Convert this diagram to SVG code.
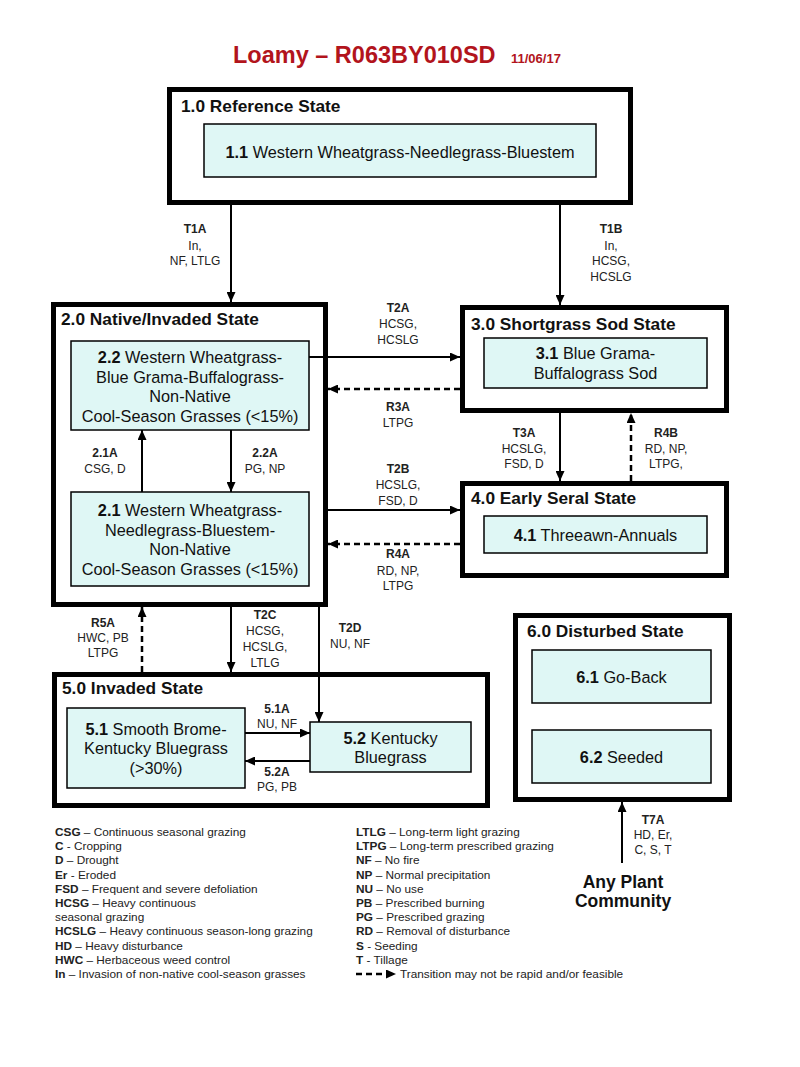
<svg xmlns="http://www.w3.org/2000/svg" width="800" height="1067" viewBox="0 0 800 1067">
<style>
text{font-family:"Liberation Sans",Arial,sans-serif;fill:#111}
.ttl{font-size:23.5px;font-weight:bold;fill:#b2141c}
.date{font-size:13px;font-weight:bold;fill:#b2141c}
.state{fill:#fff;stroke:#000;stroke-width:5}
.st{font-size:17.3px;font-weight:bold}
.box{fill:#dff7f5;stroke:#000;stroke-width:1.5}
.bx{font-size:16.3px;text-anchor:middle}
.lb{font-size:12px;text-anchor:middle;fill:#222}
.lg{font-size:11.8px;fill:#222}
.big{font-size:17.5px;font-weight:bold;text-anchor:middle}
.b{font-weight:bold}
.c{fill:none;stroke:#000;stroke-width:2}
.d{fill:none;stroke:#000;stroke-width:2.5;stroke-dasharray:6 4}
</style>
<defs>
<marker id="ah" markerUnits="userSpaceOnUse" markerWidth="10" markerHeight="9" refX="10" refY="4.5" orient="auto">
<path d="M0,0 L10,4.5 L0,9 Z" fill="#000"/>
</marker>
</defs>
<rect width="800" height="1067" fill="#fff"/>
<g id="title">
<text class="ttl" x="233" y="62.5">Loamy – R063BY010SD</text>
<text class="date" x="511" y="62.5">11/06/17</text>
</g>
<g id="state1">
<rect class="state" x="169.5" y="89.5" width="461" height="113"/>
<text class="st" x="181" y="112">1.0 Reference State</text>
<g id="c1_1">
<rect class="box" x="204" y="124" width="392" height="53"/>
<text class="bx" x="400" y="157.5"><tspan class="b">1.1</tspan> Western Wheatgrass-Needlegrass-Bluestem</text>
</g>
</g>
<g id="state2">
<rect class="state" x="53.5" y="304.5" width="272" height="300"/>
<text class="st" x="61" y="325">2.0 Native/Invaded State</text>
<g id="c2_2">
<rect class="box" x="71" y="341" width="238" height="89"/>
<text class="bx" x="190" y="363"><tspan class="b">2.2</tspan> Western Wheatgrass-</text>
<text class="bx" x="190" y="383">Blue Grama-Buffalograss-</text>
<text class="bx" x="190" y="402">Non-Native</text>
<text class="bx" x="190" y="422">Cool-Season Grasses (&lt;15%)</text>
</g>
<g id="c2_1">
<rect class="box" x="71" y="492" width="238" height="94"/>
<text class="bx" x="190" y="516"><tspan class="b">2.1</tspan> Western Wheatgrass-</text>
<text class="bx" x="190" y="536">Needlegrass-Bluestem-</text>
<text class="bx" x="190" y="555">Non-Native</text>
<text class="bx" x="190" y="575">Cool-Season Grasses (&lt;15%)</text>
</g>
</g>
<g id="state3">
<rect class="state" x="462.5" y="307.5" width="264" height="103"/>
<text class="st" x="471" y="330">3.0 Shortgrass Sod State</text>
<g id="c3_1">
<rect class="box" x="484" y="338" width="223" height="50"/>
<text class="bx" x="595.5" y="359"><tspan class="b">3.1</tspan> Blue Grama-</text>
<text class="bx" x="595.5" y="379">Buffalograss Sod</text>
</g>
</g>
<g id="state4">
<rect class="state" x="462.5" y="483.5" width="264" height="92"/>
<text class="st" x="471" y="504">4.0 Early Seral State</text>
<g id="c4_1">
<rect class="box" x="484" y="516" width="223" height="37"/>
<text class="bx" x="595.5" y="541"><tspan class="b">4.1</tspan> Threeawn-Annuals</text>
</g>
</g>
<g id="state5">
<rect class="state" x="54.5" y="674.5" width="433" height="131"/>
<text class="st" x="62" y="694">5.0 Invaded State</text>
<g id="c5_1">
<rect class="box" x="67" y="708" width="178" height="80"/>
<text class="bx" x="156" y="735"><tspan class="b">5.1</tspan> Smooth Brome-</text>
<text class="bx" x="156" y="754">Kentucky Bluegrass</text>
<text class="bx" x="156" y="774">(&gt;30%)</text>
</g>
<g id="c5_2">
<rect class="box" x="310" y="722" width="161" height="50"/>
<text class="bx" x="390.5" y="744"><tspan class="b">5.2</tspan> Kentucky</text>
<text class="bx" x="390.5" y="763">Bluegrass</text>
</g>
</g>
<g id="state6">
<rect class="state" x="515.5" y="615.5" width="214" height="184"/>
<text class="st" x="527" y="637">6.0 Disturbed State</text>
<g id="c6_1">
<rect class="box" x="532" y="650" width="179" height="53"/>
<text class="bx" x="621.5" y="683"><tspan class="b">6.1</tspan> Go-Back</text>
</g>
<g id="c6_2">
<rect class="box" x="532" y="730" width="179" height="53"/>
<text class="bx" x="621.5" y="763"><tspan class="b">6.2</tspan> Seeded</text>
</g>
</g>
<g id="anyplant">
<text class="big" x="623" y="888">Any Plant</text>
<text class="big" x="623" y="907">Community</text>
</g>
<g id="connectors">
<line class="c" x1="231" y1="205" x2="231" y2="302" marker-end="url(#ah)"/>
<line class="c" x1="560" y1="205" x2="560" y2="305" marker-end="url(#ah)"/>
<line class="c" x1="309" y1="357" x2="460" y2="357" marker-end="url(#ah)"/>
<line class="d" x1="460" y1="389" x2="328" y2="389" marker-end="url(#ah)"/>
<line class="c" x1="328" y1="510" x2="460" y2="510" marker-end="url(#ah)"/>
<line class="d" x1="460" y1="544" x2="328" y2="544" marker-end="url(#ah)"/>
<line class="c" x1="142" y1="492" x2="142" y2="430" marker-end="url(#ah)"/>
<line class="c" x1="231" y1="430" x2="231" y2="492" marker-end="url(#ah)"/>
<line class="c" x1="560" y1="413" x2="560" y2="481" marker-end="url(#ah)"/>
<line class="d" x1="631" y1="481" x2="631" y2="413" marker-end="url(#ah)"/>
<line class="d" x1="142" y1="672" x2="142" y2="607" marker-end="url(#ah)"/>
<line class="c" x1="231" y1="607" x2="231" y2="672" marker-end="url(#ah)"/>
<line class="c" x1="319" y1="607" x2="319" y2="722" marker-end="url(#ah)"/>
<line class="c" x1="245" y1="733" x2="310" y2="733" marker-end="url(#ah)"/>
<line class="c" x1="310" y1="761" x2="245" y2="761" marker-end="url(#ah)"/>
<line class="c" x1="622" y1="863" x2="622" y2="802" marker-end="url(#ah)"/>
</g>
<g id="labels">
<text class="lb" x="195" y="233"><tspan class="b">T1A</tspan><tspan x="195" y="250">In,</tspan><tspan x="195" y="265">NF, LTLG</tspan></text>
<text class="lb" x="611" y="233"><tspan class="b">T1B</tspan><tspan x="611" y="250">In,</tspan><tspan x="611" y="265">HCSG,</tspan><tspan x="611" y="281">HCSLG</tspan></text>
<text class="lb" x="398" y="312"><tspan class="b">T2A</tspan><tspan x="398" y="328">HCSG,</tspan><tspan x="398" y="344">HCSLG</tspan></text>
<text class="lb" x="398" y="411"><tspan class="b">R3A</tspan><tspan x="398" y="427">LTPG</tspan></text>
<text class="lb" x="398" y="473"><tspan class="b">T2B</tspan><tspan x="398" y="489">HCSLG,</tspan><tspan x="398" y="505">FSD, D</tspan></text>
<text class="lb" x="398" y="558"><tspan class="b">R4A</tspan><tspan x="398" y="575">RD, NP,</tspan><tspan x="398" y="590">LTPG</tspan></text>
<text class="lb" x="105" y="457"><tspan class="b">2.1A</tspan><tspan x="105" y="473">CSG, D</tspan></text>
<text class="lb" x="265" y="457"><tspan class="b">2.2A</tspan><tspan x="265" y="473">PG, NP</tspan></text>
<text class="lb" x="524" y="437"><tspan class="b">T3A</tspan><tspan x="524" y="453">HCSLG,</tspan><tspan x="524" y="468">FSD, D</tspan></text>
<text class="lb" x="666" y="437"><tspan class="b">R4B</tspan><tspan x="666" y="453">RD, NP,</tspan><tspan x="666" y="468">LTPG,</tspan></text>
<text class="lb" x="103" y="627"><tspan class="b">R5A</tspan><tspan x="103" y="642">HWC, PB</tspan><tspan x="103" y="657">LTPG</tspan></text>
<text class="lb" x="265" y="619"><tspan class="b">T2C</tspan><tspan x="265" y="635">HCSG,</tspan><tspan x="265" y="651">HCSLG,</tspan><tspan x="265" y="667">LTLG</tspan></text>
<text class="lb" x="350" y="632"><tspan class="b">T2D</tspan><tspan x="350" y="648">NU, NF</tspan></text>
<text class="lb" x="277" y="713"><tspan class="b">5.1A</tspan><tspan x="277" y="728">NU, NF</tspan></text>
<text class="lb" x="277" y="776"><tspan class="b">5.2A</tspan><tspan x="277" y="791">PG, PB</tspan></text>
<text class="lb" x="653" y="824"><tspan class="b">T7A</tspan><tspan x="653" y="839">HD, Er,</tspan><tspan x="653" y="854">C, S, T</tspan></text>
</g>
<g id="legend">
<text class="lg" x="55" y="836"><tspan class="b">CSG</tspan> – Continuous seasonal grazing</text>
<text class="lg" x="55" y="850.2"><tspan class="b">C</tspan> - Cropping</text>
<text class="lg" x="55" y="864.4"><tspan class="b">D</tspan> – Drought</text>
<text class="lg" x="55" y="878.6"><tspan class="b">Er</tspan> - Eroded</text>
<text class="lg" x="55" y="892.8"><tspan class="b">FSD</tspan> – Frequent and severe defoliation</text>
<text class="lg" x="55" y="907"><tspan class="b">HCSG</tspan> – Heavy continuous</text>
<text class="lg" x="55" y="921.2">seasonal grazing</text>
<text class="lg" x="55" y="935.4"><tspan class="b">HCSLG</tspan> – Heavy continuous season-long grazing</text>
<text class="lg" x="55" y="949.6"><tspan class="b">HD</tspan> – Heavy disturbance</text>
<text class="lg" x="55" y="963.8"><tspan class="b">HWC</tspan> – Herbaceous weed control</text>
<text class="lg" x="55" y="978"><tspan class="b">In</tspan> – Invasion of non-native cool-season grasses</text>
<text class="lg" x="356" y="836"><tspan class="b">LTLG</tspan> – Long-term light grazing</text>
<text class="lg" x="356" y="850.2"><tspan class="b">LTPG</tspan> – Long-term prescribed grazing</text>
<text class="lg" x="356" y="864.4"><tspan class="b">NF</tspan> – No fire</text>
<text class="lg" x="356" y="878.6"><tspan class="b">NP</tspan> – Normal precipitation</text>
<text class="lg" x="356" y="892.8"><tspan class="b">NU</tspan> – No use</text>
<text class="lg" x="356" y="907"><tspan class="b">PB</tspan> – Prescribed burning</text>
<text class="lg" x="356" y="921.2"><tspan class="b">PG</tspan> – Prescribed grazing</text>
<text class="lg" x="356" y="935.4"><tspan class="b">RD</tspan> – Removal of disturbance</text>
<text class="lg" x="356" y="949.6"><tspan class="b">S</tspan> - Seeding</text>
<text class="lg" x="356" y="963.8"><tspan class="b">T</tspan> - Tillage</text>
<line class="d" x1="356" y1="974" x2="396" y2="974" stroke-dasharray="7 4" marker-end="url(#ah)"/>
<text class="lg" x="400" y="978">Transition may not be rapid and/or feasible</text>
</g>
</svg>
